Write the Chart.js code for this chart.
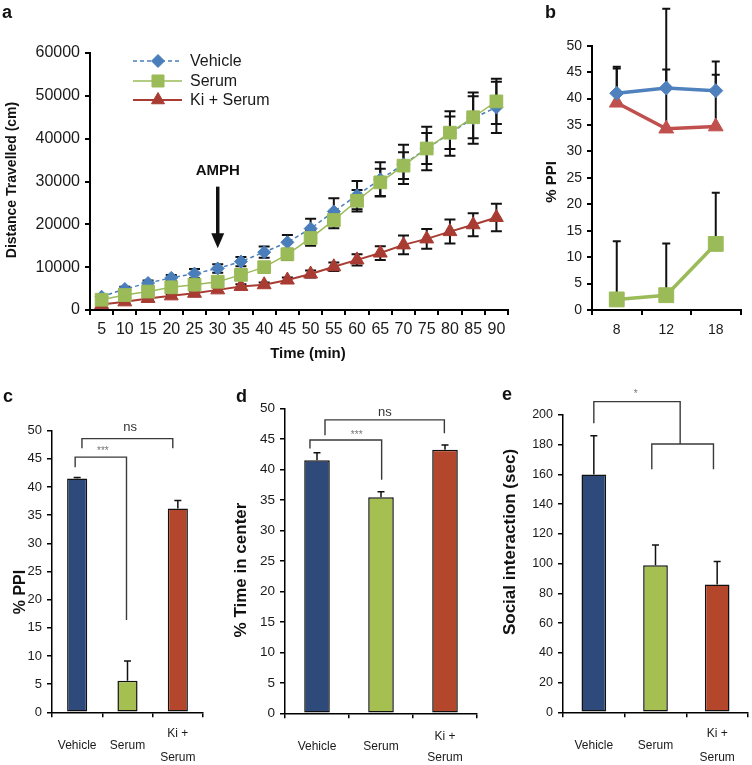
<!DOCTYPE html>
<html><head><meta charset="utf-8">
<script src="https://cdn.jsdelivr.net/npm/chart.js@4.4.1/dist/chart.umd.min.js"></script>
<style>
html,body{margin:0;padding:0;background:#fff;}
#wrap{position:relative;width:752px;height:765px;overflow:hidden;background:#fff}
canvas{position:absolute;left:0;top:0}
.letter{position:absolute;font:bold 18px 'Liberation Sans',Arial,sans-serif;color:#111;line-height:1}
</style></head><body>
<div id="wrap">
<canvas id="ca" width="752" height="765"></canvas>
<canvas id="cb" width="752" height="765"></canvas>
<canvas id="cc" width="752" height="765"></canvas>
<canvas id="cd" width="752" height="765"></canvas>
<canvas id="ce" width="752" height="765"></canvas>
<div class="letter" style="left:2px;top:3px">a</div>
<div class="letter" style="left:545px;top:3px">b</div>
<div class="letter" style="left:3px;top:387px">c</div>
<div class="letter" style="left:236px;top:387px">d</div>
<div class="letter" style="left:502px;top:385px">e</div>
</div>
<script>
// ---------- DATA ----------
const timeLabels = ['5','10','15','20','25','30','35','40','45','50','55','60','65','70','75','80','85','90'];
const vehicleDist    = [3100,4900,6300,7500,8500,9700,11300,13500,15800,19000,23000,26800,30500,34000,37700,41200,44800,47300];
const vehicleDistErr = [400,500,600,700,1100,1000,1100,1300,1700,2300,3100,3300,4000,4600,5100,5200,6000,6000];
const serumDist      = [2400,3500,4300,5300,5900,6600,8200,10000,13000,16800,21000,25500,29800,33700,37700,41400,45000,48700];
const serumDistErr   = [300,400,500,600,700,700,800,1200,1300,1800,1900,2500,3200,3100,3600,3800,4900,5300];
const kiDist         = [1300,1900,2700,3300,3900,4700,5500,5900,7000,8400,10100,11700,13300,15200,16600,18300,19900,21600];
const kiDistErr      = [200,300,300,400,400,500,500,500,600,800,1000,1300,1600,2200,2300,2800,2700,3200];
const seriesNames    = ['Vehicle','Serum','Ki + Serum'];
const amphTime = '30';
const amphArrow = [28800, 14400];   // arrow start / end (cm)
const amphTextValue = 32500;

const ppiTimeLabels = ['8','12','18'];
const vehiclePPI = [41.0, 42.0, 41.5];
const vehiclePPIErr = [5.0, 15.0, 5.5];
const serumPPI = [2.0, 2.8, 12.5];
const serumPPIErr = [11.0, 9.8, 9.7];
const kiPPI = [39.2, 34.3, 34.7];
const kiPPIErr = [6.5, 11.2, 9.8];

const groupLabels = ['Vehicle', 'Serum', ['Ki +', 'Serum']];
const ppiMeans = [41.5, 5.6, 36.2];
const ppiErr = [0.2, 3.5, 1.4];
const centerMeans = [41.5, 35.4, 43.2];
const centerErr = [1.2, 0.9, 0.8];
const socialMeans = [160, 99, 86];
const socialErr = [26, 13.5, 15.5];

// significance brackets: category positions (fractional index) and values
const ppiBrackets = [
  {from: 0.095, to: 1.90, top: 48.6, leftEnd: 46.9, rightEnd: 46.9},
  {from: -0.04, to: 0.98, top: 45.3, leftEnd: 43.5, rightEnd: 16.4}
];
const ppiNotes = [{text: 'ns', at: 1.05, value: 50.6, big: true}, {text: '***', at: 0.51, value: 46.4, big: false}];
const centerBrackets = [
  {from: 0.125, to: 1.99, top: 48.1, leftEnd: 45.6, rightEnd: 45.9},
  {from: -0.11, to: 1.01, top: 44.8, leftEnd: 43.4, rightEnd: 38.3}
];
const centerNotes = [{text: 'ns', at: 1.06, value: 49.3, big: true}, {text: '***', at: 0.62, value: 45.6, big: false}];
const socialBrackets = [
  {from: 0.0, to: 1.40, top: 209, leftEnd: 194.4, rightEnd: 180.5},
  {from: 0.94, to: 1.94, top: 180.5, leftEnd: 163.5, rightEnd: 163.5}
];
const socialNotes = [{text: '*', at: 0.68, value: 214, big: false}];

// ---------- STYLE ----------
const SANS = "'Liberation Sans', Arial, Helvetica, sans-serif";
const BLUE = '#4A7EBB', GREEN = '#9BBB59', RED = '#A83B32';
const barColors = ['#2D4A7A', '#A5C050', '#B4462B'];

function box(L, T, R, B, yW, xH) {
  return {padding: {left: L - yW, top: T, right: 752 - R, bottom: 765 - B - xH}};
}
function zeroPad(s) { s.paddingTop = 0; s.paddingBottom = 0; s.paddingLeft = 0; s.paddingRight = 0; }
function yScale(min, max, step, yW, font, bw) {
  return {
    min, max,
    ticks: {stepSize: step, font, color: '#1a1a1a', padding: 5, autoSkip: false, callback: v => String(v)},
    grid: {drawOnChartArea: false, drawTicks: true, tickLength: 5, color: '#000', lineWidth: bw},
    border: {display: true, color: '#000', width: bw},
    afterFit(s) { s.width = yW; zeroPad(s); }
  };
}
function xScale(xH, font, pad, bw, extra) {
  return {
    type: 'category', offset: true,
    ticks: Object.assign({font, color: '#1a1a1a', padding: pad, autoSkip: false, maxRotation: 0, minRotation: 0}, extra || {}),
    grid: {offset: true, drawOnChartArea: false, drawTicks: true, tickLength: 5, color: '#000', lineWidth: bw},
    border: {display: true, color: '#000', width: bw},
    afterFit(s) { s.height = xH; zeroPad(s); }
  };
}
const baseOpts = {responsive: false, animation: false, devicePixelRatio: 1, events: []};
const noPlug = {legend: {display: false}, tooltip: {enabled: false}};

function errBars(errs, o) {
  const {both = false, cap = 4, width = 1.5, color = '#000', after = false} = o || {};
  const draw = (chart) => {
    const ctx = chart.ctx, ys = chart.scales.y;
    ctx.save(); ctx.strokeStyle = color; ctx.lineWidth = width;
    errs.forEach((arr, di) => {
      if (!arr) return;
      const meta = chart.getDatasetMeta(di);
      const vals = chart.data.datasets[di].data;
      meta.data.forEach((el, i) => {
        const v = vals[i], e = arr[i], x = el.x;
        const yt = ys.getPixelForValue(v + e);
        const yb = ys.getPixelForValue(both ? v - e : v);
        ctx.beginPath();
        ctx.moveTo(x, yb); ctx.lineTo(x, yt);
        ctx.moveTo(x - cap, yt); ctx.lineTo(x + cap, yt);
        if (both) { ctx.moveTo(x - cap, yb); ctx.lineTo(x + cap, yb); }
        ctx.stroke();
      });
    });
    ctx.restore();
  };
  return after ? {id: 'errbars', afterDatasetsDraw: draw} : {id: 'errbars', beforeDatasetsDraw: draw};
}
function brackets(items, notes, bigFont, smallFont) {
  return {id: 'brackets', afterDraw(chart) {
    const ctx = chart.ctx, xs = chart.scales.x, ys = chart.scales.y;
    ctx.save(); ctx.strokeStyle = '#3a3a3a'; ctx.lineWidth = 1.4;
    items.forEach(b => {
      const x1 = xs.getPixelForValue(b.from), x2 = xs.getPixelForValue(b.to);
      const yt = ys.getPixelForValue(b.top);
      ctx.beginPath();
      ctx.moveTo(x1, ys.getPixelForValue(b.leftEnd)); ctx.lineTo(x1, yt);
      ctx.lineTo(x2, yt); ctx.lineTo(x2, ys.getPixelForValue(b.rightEnd));
      ctx.stroke();
    });
    ctx.textAlign = 'center'; ctx.textBaseline = 'middle';
    notes.forEach(n => {
      ctx.font = n.big ? bigFont : smallFont;
      ctx.fillStyle = n.big ? '#333' : '#777';
      ctx.fillText(n.text, xs.getPixelForValue(n.at), ys.getPixelForValue(n.value));
    });
    ctx.restore();
  }};
}
function titles(list) {
  return {id: 'titles', afterDraw(chart) {
    const ctx = chart.ctx;
    list.forEach(t => {
      ctx.save(); ctx.translate(t.x, t.y); ctx.rotate(t.rot || 0);
      ctx.font = t.font; ctx.fillStyle = '#111'; ctx.textAlign = 'center'; ctx.textBaseline = 'middle';
      ctx.fillText(t.text, 0, 0); ctx.restore();
    });
  }};
}
const ROT = -Math.PI / 2;

// ---------- PANEL a ----------
const legendPlugin = {id: 'legendA', afterDraw(chart) {
  const ctx = chart.ctx;
  const rows = [
    {name: seriesNames[0], color: BLUE, dash: [4, 3], style: 'rectRot', r: 6.5, lw: 1.5},
    {name: seriesNames[1], color: GREEN, dash: [], style: 'rect', r: 8.5, lw: 1.5},
    {name: seriesNames[2], color: RED, dash: [], style: 'triangle', r: 7.5, lw: 2}
  ];
  const ys = [61, 81, 100];
  rows.forEach((rw, i) => {
    const y = ys[i];
    ctx.save();
    ctx.strokeStyle = rw.color; ctx.lineWidth = rw.lw; ctx.setLineDash(rw.dash);
    ctx.beginPath(); ctx.moveTo(133, y); ctx.lineTo(182, y); ctx.stroke();
    ctx.setLineDash([]);
    ctx.fillStyle = rw.color; ctx.strokeStyle = rw.color; ctx.lineWidth = 1;
    Chart.helpers.drawPoint(ctx, {pointStyle: rw.style, radius: rw.r, borderWidth: 1, rotation: 0}, 158, y);
    ctx.fillStyle = '#1a1a1a'; ctx.font = '16px ' + SANS; ctx.textAlign = 'left'; ctx.textBaseline = 'middle';
    ctx.fillText(rw.name, 190, y + 1);
    ctx.restore();
  });
}};
const amphPlugin = {id: 'amph', afterDraw(chart) {
  const ctx = chart.ctx, xs = chart.scales.x, ys = chart.scales.y;
  const x = xs.getPixelForValue(timeLabels.indexOf(amphTime));
  const y0 = ys.getPixelForValue(amphArrow[0]), y1 = ys.getPixelForValue(amphArrow[1]);
  ctx.save();
  ctx.fillStyle = '#111'; ctx.strokeStyle = '#111';
  ctx.font = 'bold 15px ' + SANS; ctx.textAlign = 'center'; ctx.textBaseline = 'middle';
  ctx.fillText('AMPH', x, ys.getPixelForValue(amphTextValue));
  ctx.lineWidth = 3.5;
  ctx.beginPath(); ctx.moveTo(x, y0); ctx.lineTo(x, y1 - 12); ctx.stroke();
  ctx.beginPath(); ctx.moveTo(x - 6.5, y1 - 15); ctx.lineTo(x + 6.5, y1 - 15); ctx.lineTo(x, y1); ctx.closePath(); ctx.fill();
  ctx.restore();
}};

new Chart(document.getElementById('ca'), {
  type: 'line',
  data: {labels: timeLabels, datasets: [
    {label: seriesNames[0], data: vehicleDist, borderColor: BLUE, backgroundColor: BLUE, borderDash: [4, 3], borderWidth: 1.5,
     pointStyle: 'rectRot', pointRadius: 6.5, pointBorderWidth: 1, clip: false, order: 1},
    {label: seriesNames[1], data: serumDist, borderColor: GREEN, backgroundColor: GREEN, borderWidth: 1.5,
     pointStyle: 'rect', pointRadius: 9, pointBorderWidth: 1, clip: false, order: 0},
    {label: seriesNames[2], data: kiDist, borderColor: RED, backgroundColor: RED, borderWidth: 2,
     pointStyle: 'triangle', pointRadius: 8, pointBorderWidth: 1, clip: false, order: 2}
  ]},
  options: Object.assign({}, baseOpts, {
    layout: box(90, 53, 508, 310, 60, 40),
    scales: {
      x: xScale(40, {size: 16, family: SANS}, 5, 2),
      y: yScale(0, 60000, 10000, 60, {size: 16, family: SANS}, 2)
    },
    plugins: noPlug
  }),
  plugins: [
    errBars([vehicleDistErr, serumDistErr, kiDistErr], {both: true, cap: 5.5, width: 2, color: '#111'}),
    legendPlugin, amphPlugin,
    titles([
      {text: 'Distance Travelled (cm)', x: 12, y: 180, rot: ROT, font: 'bold 14px ' + SANS},
      {text: 'Time (min)', x: 308, y: 354, font: 'bold 15px ' + SANS}
    ])
  ]
});

// ---------- PANEL b ----------
new Chart(document.getElementById('cb'), {
  type: 'line',
  data: {labels: ppiTimeLabels, datasets: [
    {label: seriesNames[0], data: vehiclePPI, borderColor: '#4F81BD', backgroundColor: '#4F81BD', borderWidth: 3.5,
     pointStyle: 'rectRot', pointRadius: 7, pointBorderWidth: 1, clip: false},
    {label: seriesNames[1], data: serumPPI, borderColor: GREEN, backgroundColor: GREEN, borderWidth: 3.5,
     pointStyle: 'rect', pointRadius: 10.5, pointBorderWidth: 1, clip: false},
    {label: seriesNames[2], data: kiPPI, borderColor: '#C0504D', backgroundColor: '#C0504D', borderWidth: 3.5,
     pointStyle: 'triangle', pointRadius: 8.5, pointBorderWidth: 1, clip: false}
  ]},
  options: Object.assign({}, baseOpts, {
    layout: box(592, 45.7, 749, 310, 60, 40),
    scales: {
      x: xScale(40, {size: 14, family: SANS}, 7, 2),
      y: yScale(0, 50, 5, 60, {size: 14, family: SANS}, 2)
    },
    plugins: noPlug
  }),
  plugins: [
    errBars([vehiclePPIErr, serumPPIErr, kiPPIErr], {both: false, cap: 4, width: 2, color: '#111'}),
    titles([{text: '% PPI', x: 552, y: 182, rot: ROT, font: 'bold 15px ' + SANS}])
  ]
});

// ---------- PANELS c, d, e ----------
function barChart(id, values, errs, yMin, yMax, step, area, tickSize, lblPad, lblLH, brk, notes, title) {
  new Chart(document.getElementById(id), {
    type: 'bar',
    data: {labels: groupLabels, datasets: [{data: values, backgroundColor: barColors, borderColor: '#111',
      borderWidth: 1.5, borderSkipped: false, barPercentage: 0.4, categoryPercentage: 1.0}]},
    options: Object.assign({}, baseOpts, {
      layout: box(area[0], area[1], area[2], area[3], 60, 52),
      scales: {
        x: xScale(52, {size: 12, family: SANS, lineHeight: lblLH}, lblPad, 1.5, {crossAlign: 'center'}),
        y: yScale(yMin, yMax, step, 60, {size: tickSize, family: SANS}, 1.5)
      },
      plugins: noPlug
    }),
    plugins: [
      errBars([errs], {both: false, cap: 3.5, width: 1.5, color: '#111', after: true}),
      brackets(brk, notes, '13px ' + SANS, '10px ' + SANS),
      titles([title])
    ]
  });
}
barChart('cc', ppiMeans, ppiErr, 0, 50, 5, [52, 430.7, 203, 712.3], 13, 16, 2.0, ppiBrackets, ppiNotes,
  {text: '% PPI', x: 21, y: 592, rot: ROT, font: 'bold 16px ' + SANS});
barChart('cd', centerMeans, centerErr, 0, 50, 5, [285, 408.3, 477, 713.3], 13.5, 18, 1.8, centerBrackets, centerNotes,
  {text: '% Time in center', x: 241, y: 570, rot: ROT, font: 'bold 17px ' + SANS});
barChart('ce', socialMeans, socialErr, 0, 200, 20, [563, 415, 748, 712.3], 12.5, 16, 2.0, socialBrackets, socialNotes,
  {text: 'Social interaction (sec)', x: 510, y: 542, rot: ROT, font: 'bold 17px ' + SANS});
</script>
</body></html>
